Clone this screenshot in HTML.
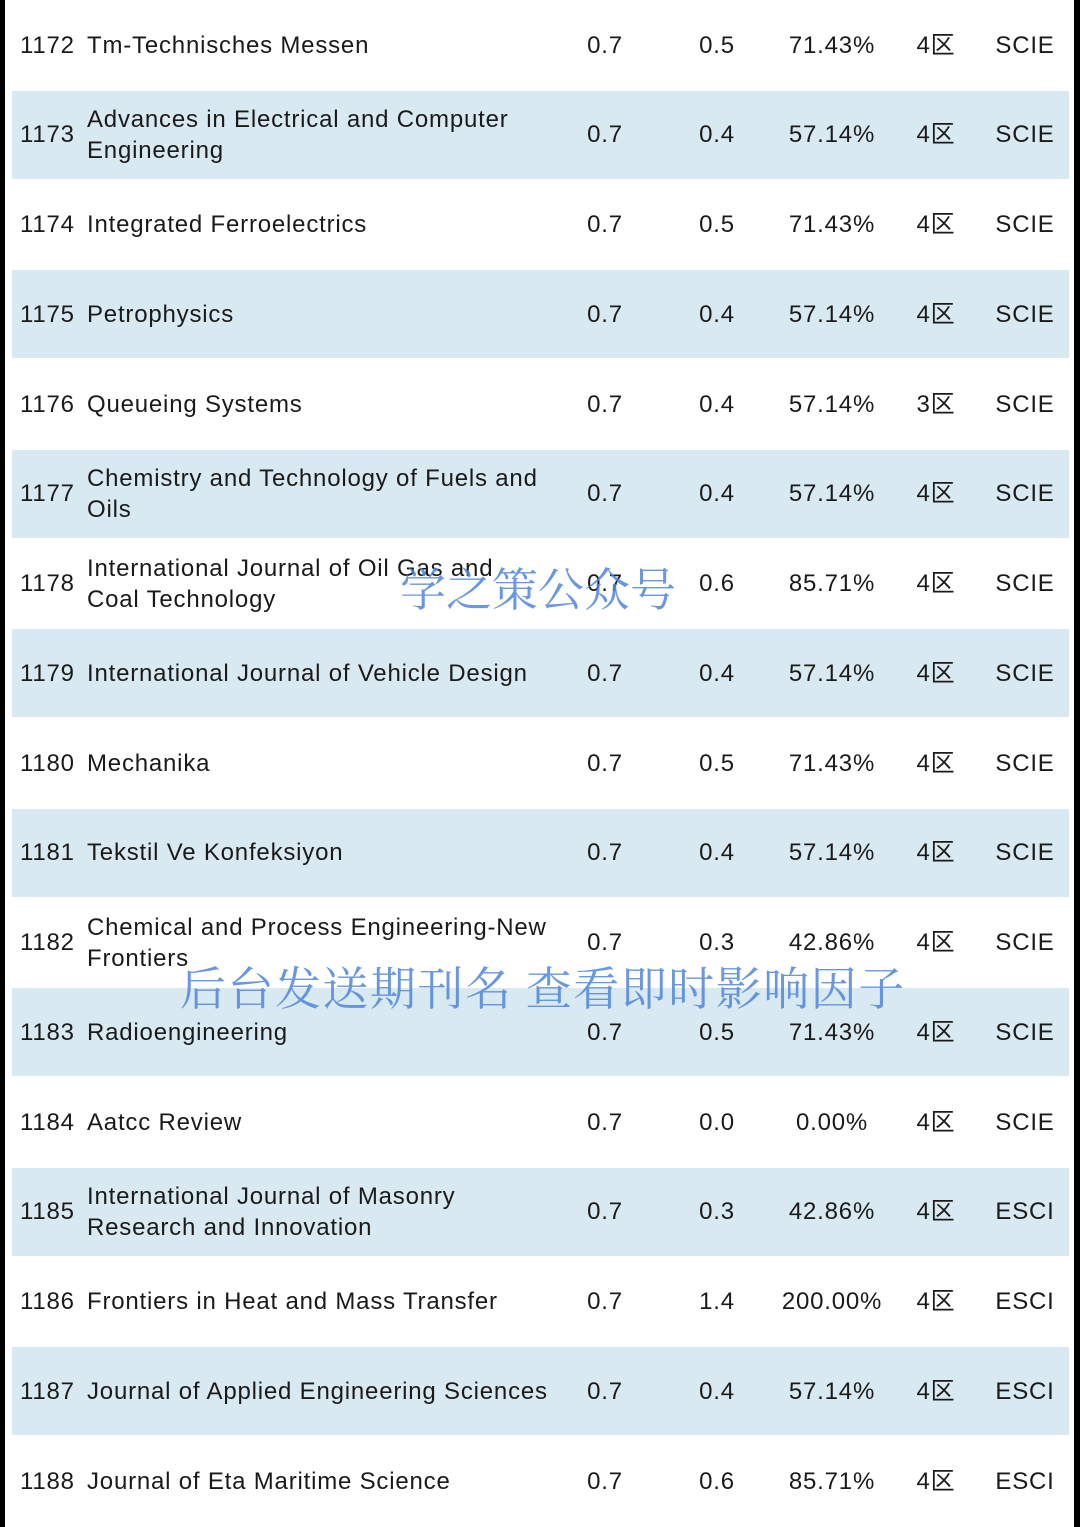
<!DOCTYPE html>
<html><head><meta charset="utf-8"><style>
body{margin:0;width:1080px;height:1527px;background:#fff;position:relative;overflow:hidden;font-family:"Liberation Sans","Noto Sans CJK SC",sans-serif;color:#1a1a1a}
.bl{position:absolute;top:0;width:5px;height:1527px;background:#000}
.row{position:absolute;left:12px;width:1057px;height:88px}
.row.b{background:#d8e9f1}
.c{position:absolute;top:0;height:88px;display:flex;align-items:center;font-size:24px;line-height:31px;letter-spacing:0.8px;white-space:nowrap}
.num{left:8px}.name{left:75px;width:520px}
.v{width:120px;justify-content:center}
.wm{position:absolute;font-family:"Noto Serif CJK SC",serif;color:#4f86dc;opacity:.85;white-space:nowrap}
</style></head><body>
<div class="bl" style="left:0"></div>
<div class="bl" style="left:1074px;width:6px"></div>
<div id="t"></div>
<div class="wm" style="left:400px;top:554px;font-size:46px">学之策公众号</div>
<div class="wm" style="left:180px;top:953px;font-size:46px;letter-spacing:1.5px">后台发送期刊名 查看即时影响因子</div>
<script>
const nums=[1172,1173,1174,1175,1176,1177,1178,1179,1180,1181,1182,1183,1184,1185,1186,1187,1188];
const names=["Tm-Technisches Messen","Advances in Electrical and Computer\nEngineering","Integrated Ferroelectrics","Petrophysics","Queueing Systems","Chemistry and Technology of Fuels and\nOils","International Journal of Oil Gas and\nCoal Technology","International Journal of Vehicle Design","Mechanika","Tekstil Ve Konfeksiyon","Chemical and Process Engineering-New\nFrontiers","Radioengineering","Aatcc Review","International Journal of Masonry\nResearch and Innovation","Frontiers in Heat and Mass Transfer","Journal of Applied Engineering Sciences","Journal of Eta Maritime Science"];
const if1=["0.7","0.7","0.7","0.7","0.7","0.7","0.7","0.7","0.7","0.7","0.7","0.7","0.7","0.7","0.7","0.7","0.7"];
const if2=["0.5","0.4","0.5","0.4","0.4","0.4","0.6","0.4","0.5","0.4","0.3","0.5","0.0","0.3","1.4","0.4","0.6"];
const pct=["71.43%","57.14%","71.43%","57.14%","57.14%","57.14%","85.71%","57.14%","71.43%","57.14%","42.86%","71.43%","0.00%","42.86%","200.00%","57.14%","85.71%"];
const zone=["4区","4区","4区","4区","3区","4区","4区","4区","4区","4区","4区","4区","4区","4区","4区","4区","4区"];
const idx=["SCIE","SCIE","SCIE","SCIE","SCIE","SCIE","SCIE","SCIE","SCIE","SCIE","SCIE","SCIE","SCIE","ESCI","ESCI","ESCI","ESCI"];
const t=document.getElementById('t');
nums.forEach((n,i)=>{
 const r=document.createElement('div');
 r.className='row'+(i%2?' b':'');
 r.style.top=(i*89.75+1)+'px';
 
 
 const cells=[['num',n,0],['name',names[i],0],['v',if1[i],533],['v',if2[i],645],['v',pct[i],760],['v',zone[i],864],['v',idx[i],953]];
 cells.forEach(([cls,txt,x],k)=>{
  const c=document.createElement('div');
  c.className='c '+cls;
  if(x)c.style.left=x+'px';
  if(cls==='name'){c.innerHTML='<span>'+String(txt).split('\n').join('<br>')+'</span>';}
  else c.textContent=txt;
  
  
  r.appendChild(c);
 });
 t.appendChild(r);
});
</script>
</body></html>
